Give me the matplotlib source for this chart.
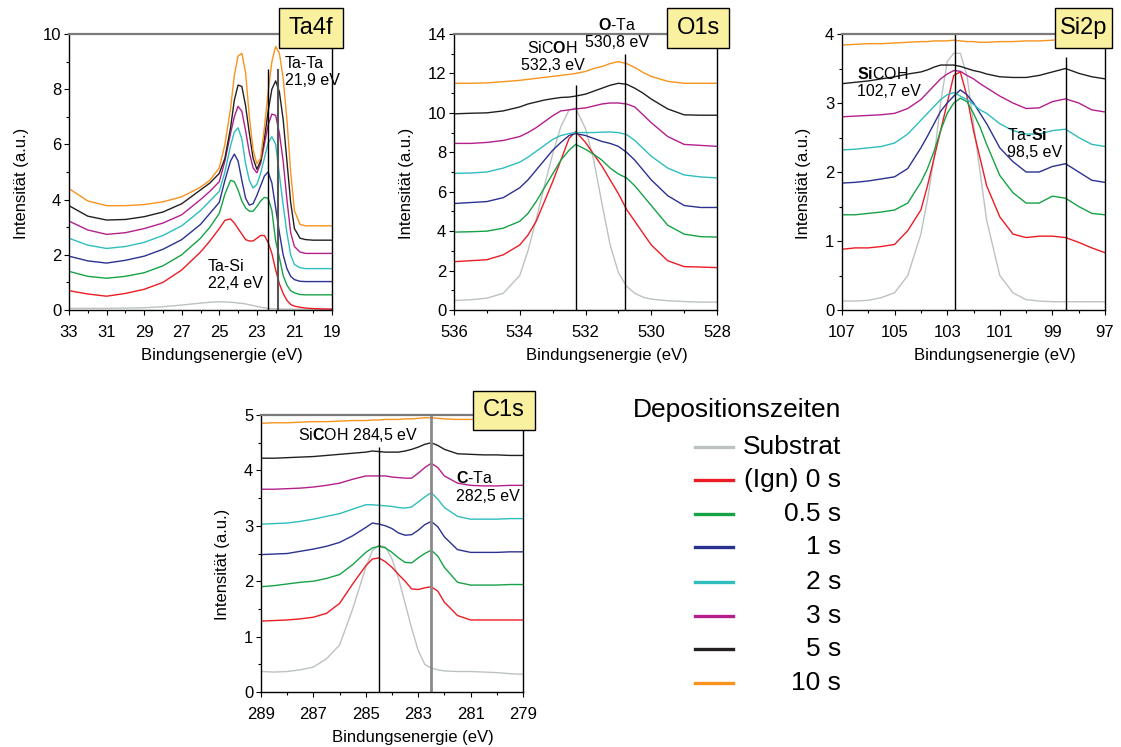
import numpy as np
import matplotlib.pyplot as plt
from matplotlib.lines import Line2D
from matplotlib.patches import Rectangle
from matplotlib.ticker import MultipleLocator

plt.rcParams['font.family'] = ['Liberation Sans', 'DejaVu Sans']
plt.rcParams['mathtext.fontset'] = 'custom'
plt.rcParams['mathtext.rm'] = 'Liberation Sans'
plt.rcParams['mathtext.bf'] = 'Liberation Sans:bold'

W, H = 1121, 747

series_labels = ['Substrat', '(Ign) 0 s', '0.5 s', '1 s', '2 s', '3 s', '5 s', '10 s']
series_colors = ['#bcc2c2', '#ec1c24', '#15a346', '#2b3190', '#2fbdbd', '#b41f8c', '#231f20', '#f7931e']

# ---- Ta4f ----
ta_e = [33, 32, 31, 30, 29, 28, 27, 26, 25.5, 25, 24.7, 24.4, 24.2, 24.0, 23.8, 23.6, 23.4,
        23.2, 23.0, 22.8, 22.6, 22.4, 22.2, 22.0, 21.8, 21.6, 21.4, 21.2, 21.0, 20.7, 20.4, 20.0, 19.0]
ta_sub = [0.06, 0.06, 0.06, 0.07, 0.08, 0.12, 0.18, 0.25, 0.28, 0.3, 0.29, 0.28, 0.27, 0.25, 0.24, 0.22, 0.19,
          0.16, 0.13, 0.1, 0.08, 0.06, 0.05, 0.04, 0.04, 0.03, 0.03, 0.03, 0.03, 0.03, 0.03, 0.03, 0.03]
ta_0s = [0.7, 0.58, 0.5, 0.6, 0.75, 1.0, 1.45, 2.1, 2.5, 2.95, 3.25, 3.3, 3.15, 2.95, 2.75, 2.55, 2.5,
         2.5, 2.6, 2.7, 2.7, 2.45, 2.05, 1.45, 0.95, 0.6, 0.35, 0.2, 0.14, 0.1, 0.07, 0.05, 0.03]
ta_05s = [1.4, 1.22, 1.15, 1.22, 1.35, 1.6, 2.0, 2.6, 3.0, 3.5, 4.2, 4.7, 4.65, 4.35, 3.95, 3.7, 3.58,
          3.58, 3.75, 3.95, 4.08, 4.05, 3.6, 2.5, 1.9, 1.25, 0.9, 0.7, 0.62, 0.56, 0.55, 0.55, 0.55]
ta_1s = [1.95, 1.78, 1.7, 1.8, 1.95, 2.2, 2.55, 3.1, 3.5, 3.9, 4.7, 5.4, 5.65, 5.4, 4.7, 4.05, 3.8,
         3.85, 4.15, 4.5, 4.85, 5.0, 4.6, 3.7, 2.8, 2.0, 1.5, 1.22, 1.1, 1.04, 1.03, 1.03, 1.03]
ta_2s = [2.6, 2.35, 2.23, 2.3, 2.45, 2.7, 3.05, 3.6, 3.95, 4.3, 5.0, 5.95, 6.45, 6.6, 6.2, 5.3, 4.7,
         4.42, 4.55, 4.95, 5.5, 6.05, 6.28, 6.0, 4.9, 3.8, 2.8, 2.0, 1.65, 1.53, 1.5, 1.5, 1.5]
ta_3s = [3.22, 2.9, 2.74, 2.8, 2.95, 3.15, 3.45, 4.0, 4.3, 4.65, 5.4, 6.4, 7.0, 7.38, 7.2, 6.5, 5.7,
         5.15, 4.97, 5.3, 6.0, 6.7, 7.1, 7.05, 6.4, 5.4, 4.0, 2.8, 2.3, 2.1, 2.05, 2.05, 2.05]
ta_5s = [3.78, 3.4, 3.26, 3.28, 3.38, 3.55, 3.85, 4.35, 4.6, 4.95, 5.5, 6.6, 7.6, 8.15, 8.1, 7.4, 6.4,
         5.5, 5.1, 5.4, 6.2, 7.2, 8.0, 8.3, 7.9, 6.9, 5.4, 3.9, 2.95, 2.6, 2.55, 2.53, 2.53]
ta_10s = [4.4, 3.95, 3.78, 3.78, 3.82, 3.92, 4.1, 4.45, 4.7, 5.15, 6.0, 7.3, 8.5, 9.2, 9.3, 8.6, 7.0,
          5.8, 5.3, 5.5, 6.6, 7.9, 9.0, 9.55, 9.3, 8.4, 6.9, 5.0, 3.6, 3.1, 3.05, 3.05, 3.05]

# ---- O1s ----
o_e = [536, 535.5, 535, 534.5, 534, 533.75, 533.5, 533.25, 533, 532.75, 532.5, 532.3, 532,
       531.75, 531.5, 531.25, 531, 530.75, 530.5, 530.25, 530, 529.5, 529, 528.5, 528]
o_sub = [0.48, 0.52, 0.6, 0.85, 1.75, 3.0, 4.6, 6.3, 7.9, 9.3, 10.15, 10.25, 9.2,
         7.6, 5.4, 3.3, 1.9, 1.2, 0.85, 0.65, 0.55, 0.47, 0.43, 0.4, 0.4]
o_0s = [2.45, 2.5, 2.55, 2.8, 3.3, 3.8, 4.5, 5.5, 6.5, 7.6, 8.7, 9.05, 8.5,
        7.9, 7.3, 6.6, 5.9, 5.1, 4.5, 3.9, 3.3, 2.5, 2.2, 2.18, 2.15]
o_05s = [3.95, 3.97, 4.0, 4.15, 4.5, 4.9, 5.5, 6.2, 6.9, 7.6, 8.1, 8.4, 8.15,
         7.9, 7.6, 7.2, 6.9, 6.7, 6.3, 5.8, 5.3, 4.3, 3.85, 3.72, 3.7]
o_1s = [5.4, 5.45, 5.5, 5.7, 6.2, 6.6, 7.1, 7.6, 8.1, 8.5, 8.85, 8.95, 8.85,
        8.7, 8.55, 8.45, 8.3, 8.0, 7.6, 7.1, 6.6, 5.8, 5.3, 5.2, 5.2]
o_2s = [6.93, 6.95, 7.0, 7.2, 7.5, 7.75, 8.05, 8.35, 8.65, 8.85, 8.95, 9.0, 9.0,
        9.0, 9.02, 9.03, 9.0, 8.9, 8.6, 8.2, 7.8, 7.2, 6.85, 6.75, 6.7]
o_3s = [8.45, 8.45, 8.5, 8.6, 8.8, 9.0, 9.25, 9.55, 9.85, 10.1, 10.15, 10.2, 10.25,
        10.35, 10.45, 10.5, 10.5, 10.45, 10.3, 9.9, 9.5, 8.8, 8.4, 8.35, 8.3]
o_5s = [9.95, 9.98, 10.0, 10.1, 10.3, 10.45, 10.55, 10.65, 10.72, 10.78, 10.8, 10.85, 10.95,
        11.1, 11.25, 11.4, 11.5, 11.45, 11.25, 11.0, 10.7, 10.2, 9.9, 9.88, 9.88]
o_10s = [11.5, 11.5, 11.52, 11.58, 11.65, 11.7, 11.75, 11.8, 11.85, 11.9, 11.95, 12.0, 12.1,
         12.25, 12.35, 12.5, 12.6, 12.5, 12.3, 12.05, 11.85, 11.6, 11.5, 11.5, 11.5]

# ---- Si2p ----
si_e = [107, 106.5, 106, 105.5, 105, 104.5, 104, 103.75, 103.5, 103.25, 103, 102.75, 102.5,
        102.25, 102, 101.75, 101.5, 101, 100.5, 100, 99.5, 99, 98.5, 98, 97.5, 97]
si_sub = [0.13, 0.13, 0.14, 0.18, 0.25, 0.5, 1.1, 1.6, 2.2, 3.0, 3.6, 3.72, 3.72,
          3.4, 2.7, 2.0, 1.3, 0.5, 0.25, 0.15, 0.13, 0.12, 0.12, 0.12, 0.12, 0.12]
si_0s = [0.88, 0.9, 0.9, 0.92, 0.95, 1.15, 1.45, 1.8, 2.2, 2.6, 3.0, 3.4, 3.45,
         3.1, 2.6, 2.2, 1.8, 1.35, 1.1, 1.05, 1.07, 1.07, 1.05, 0.98, 0.9, 0.83]
si_05s = [1.38, 1.38, 1.4, 1.42, 1.45, 1.55, 1.85, 2.05, 2.3, 2.6, 2.85, 3.0, 3.07,
          3.02, 2.85, 2.65, 2.4, 1.95, 1.7, 1.55, 1.55, 1.65, 1.62, 1.5, 1.4, 1.38]
si_1s = [1.84, 1.85, 1.87, 1.9, 1.93, 2.05, 2.35, 2.52, 2.7, 2.88, 3.0, 3.1, 3.19,
         3.12, 3.0, 2.85, 2.7, 2.35, 2.15, 2.0, 2.0, 2.08, 2.12, 2.0, 1.88, 1.85]
si_2s = [2.32, 2.33, 2.35, 2.37, 2.42, 2.55, 2.75, 2.85, 2.95, 3.05, 3.12, 3.15, 3.1,
         3.05, 2.98, 2.9, 2.85, 2.7, 2.6, 2.55, 2.55, 2.6, 2.62, 2.5, 2.4, 2.37]
si_3s = [2.8, 2.81, 2.82, 2.83, 2.85, 2.92, 3.05, 3.15, 3.25, 3.35, 3.42, 3.47, 3.46,
         3.4, 3.35, 3.28, 3.22, 3.1, 3.0, 2.92, 2.93, 3.02, 3.06, 3.0, 2.9, 2.87]
si_5s = [3.28, 3.3, 3.32, 3.35, 3.38, 3.42, 3.45, 3.48, 3.52, 3.55, 3.55, 3.55, 3.53,
         3.5, 3.47, 3.45, 3.42, 3.38, 3.37, 3.37, 3.4, 3.45, 3.5, 3.43, 3.38, 3.35]
si_10s = [3.84, 3.85, 3.86, 3.86, 3.87, 3.88, 3.89, 3.89, 3.9, 3.9, 3.9, 3.91, 3.9,
          3.89, 3.89, 3.88, 3.88, 3.89, 3.89, 3.9, 3.9, 3.91, 3.92, 3.93, 3.93, 3.93]

# ---- C1s ----
c_e = [289, 288.5, 288, 287.5, 287, 286.5, 286, 285.5, 285, 284.75, 284.5, 284.25, 284, 283.75,
       283.5, 283.25, 283, 282.75, 282.5, 282.25, 282, 281.5, 281, 280.5, 280, 279.5, 279]
c_sub = [0.37, 0.36, 0.37, 0.4, 0.45, 0.6, 0.85, 1.5, 2.25, 2.55, 2.65, 2.62, 2.4, 2.05,
         1.6, 1.15, 0.75, 0.5, 0.43, 0.4, 0.38, 0.37, 0.37, 0.36, 0.35, 0.33, 0.32]
c_0s = [1.28, 1.29, 1.3, 1.32, 1.35, 1.42, 1.6, 1.95, 2.28, 2.4, 2.42, 2.35, 2.25, 2.12,
        2.0, 1.86, 1.85, 1.88, 1.9, 1.82, 1.62, 1.38, 1.3, 1.3, 1.3, 1.3, 1.3]
c_05s = [1.9, 1.92, 1.95, 1.98, 2.0, 2.05, 2.12, 2.3, 2.52, 2.6, 2.63, 2.6, 2.52, 2.42,
         2.34, 2.33, 2.42, 2.5, 2.56, 2.45, 2.25, 1.98, 1.93, 1.93, 1.93, 1.94, 1.94]
c_1s = [2.48, 2.49, 2.5, 2.54, 2.58, 2.63, 2.7, 2.82, 2.97, 3.05, 3.03, 3.0, 2.95, 2.87,
        2.83, 2.84, 2.92, 3.02, 3.08, 2.98, 2.8, 2.57, 2.52, 2.52, 2.52, 2.53, 2.53]
c_2s = [3.03, 3.04, 3.05, 3.08, 3.12, 3.17, 3.22, 3.3, 3.38, 3.38, 3.37, 3.36, 3.35, 3.33,
        3.32, 3.34, 3.43, 3.52, 3.6, 3.48, 3.33, 3.17, 3.12, 3.12, 3.12, 3.13, 3.13]
c_3s = [3.66, 3.66, 3.67, 3.68, 3.7, 3.73, 3.77, 3.84, 3.9, 3.9, 3.9, 3.9, 3.88, 3.87,
        3.86, 3.86, 3.95, 4.05, 4.13, 4.05, 3.9, 3.77, 3.73, 3.72, 3.72, 3.73, 3.73]
c_5s = [4.22, 4.22, 4.23, 4.24, 4.25, 4.27, 4.29, 4.31, 4.33, 4.35, 4.34, 4.33, 4.33, 4.33,
        4.35, 4.38, 4.42, 4.47, 4.5, 4.45, 4.38, 4.3, 4.29, 4.28, 4.28, 4.27, 4.27]
c_10s = [4.85, 4.86, 4.86, 4.87, 4.88, 4.88, 4.89, 4.9, 4.9, 4.91, 4.91, 4.92, 4.92, 4.92,
         4.93, 4.93, 4.94, 4.95, 4.95, 4.94, 4.93, 4.92, 4.92, 4.92, 4.91, 4.91, 4.9]


def fx(px):
    return px / W


def fy(py):
    return 1 - py / H


def panel(rect_px, energies, curves, xlim, ylim, ymajor, yminor, name, box_px):
    l, t, r, b = rect_px
    ax = fig.add_axes([fx(l), fy(b), (r - l) / W, (b - t) / H])
    for y, c in zip(curves, series_colors):
        ax.plot(energies, y, color=c, lw=1.0)
    ax.set_xlim(*xlim)
    ax.set_ylim(*ylim)
    ax.set_xticks(np.arange(xlim[0], xlim[1] - 0.5, -2))
    ax.xaxis.set_minor_locator(MultipleLocator(1))
    ax.yaxis.set_major_locator(MultipleLocator(ymajor))
    ax.yaxis.set_minor_locator(MultipleLocator(yminor))
    ax.tick_params(which='major', direction='out', length=3.5, width=0.8, labelsize=12)
    ax.tick_params(axis='x', which='major', pad=7)
    ax.tick_params(axis='y', which='major', pad=2)
    ax.tick_params(which='minor', direction='out', length=2.5, width=0.8)
    for s in ['left', 'bottom', 'right']:
        ax.spines[s].set_color('black')
        ax.spines[s].set_linewidth(1.0)
    ax.spines['top'].set_color('#7a7a7a')
    ax.spines['top'].set_linewidth(1.6)
    ax.set_xlabel('Bindungsenergie (eV)', fontsize=12, labelpad=6)
    ax.set_ylabel('Intensität (a.u.)', fontsize=12, labelpad=10)
    ax.xaxis.label.set_x(0.5 + 21 / (r - l))
    ax.yaxis.label.set_y(0.5 - 11 / (b - t))
    # label box
    bl, bt, br, bb = box_px
    fig.add_artist(Rectangle((fx(bl), fy(bb)), (br - bl) / W, (bb - bt) / H,
                             transform=fig.transFigure, facecolor='#f9f0a0',
                             edgecolor='black', lw=1.0, zorder=10))
    fig.text(fx((bl + br) / 2), fy((bt + bb) / 2), name, ha='center', va='center',
             fontsize=17, zorder=11)
    return ax


fig = plt.figure(figsize=(W / 100, H / 100), dpi=100)

# Ta4f
ax1 = panel((69, 34, 332, 310), ta_e,
            [ta_sub, ta_0s, ta_05s, ta_1s, ta_2s, ta_3s, ta_5s, ta_10s],
            (33, 19), (0, 10), 2, 1, 'Ta4f', (279, 8, 343, 48))
ax1.vlines(22.4, 0, 8.75, color='black', lw=1.0)
ax1.vlines(21.9, 0, 8.75, color='#555555', lw=1.5)
ax1.text(21.5, 8.62, 'Ta-Ta\n21,9 eV', ha='left', va='center', fontsize=11.5)
ax1.text(25.6, 1.27, 'Ta-Si\n22,4 eV', ha='left', va='center', fontsize=11.5)

# O1s
ax2 = panel((454, 34, 717, 310), o_e,
            [o_sub, o_0s, o_05s, o_1s, o_2s, o_3s, o_5s, o_10s],
            (536, 528), (0, 14), 2, 1, 'O1s', (667, 8, 729, 48))
ax2.vlines(532.3, 0, 11.4, color='black', lw=1.0)
ax2.vlines(530.8, 0, 13.0, color='black', lw=1.0)
ax2.text(533.0, 12.86, 'SiC$\\mathbf{O}$H\n532,3 eV', ha='center', va='center', fontsize=11.5)
ax2.text(531.05, 14.03, '$\\mathbf{O}$-Ta\n530,8 eV', ha='center', va='center', fontsize=11.5)

# Si2p
ax3 = panel((842, 34, 1105, 310), si_e,
            [si_sub, si_0s, si_05s, si_1s, si_2s, si_3s, si_5s, si_10s],
            (107, 97), (0, 4), 1, 0.5, 'Si2p', (1055, 8, 1112, 48))
ax3.vlines(102.7, 0, 4.0, color='black', lw=1.0)
ax3.vlines(98.5, 0, 3.67, color='black', lw=1.0)
ax3.text(106.43, 3.30, '$\\mathbf{Si}$COH\n102,7 eV', ha='left', va='center', fontsize=11.5)
ax3.text(100.73, 2.41, 'Ta-$\\mathbf{Si}$\n98,5 eV', ha='left', va='center', fontsize=11.5)

# C1s
ax4 = panel((261, 415, 523, 692), c_e,
            [c_sub, c_0s, c_05s, c_1s, c_2s, c_3s, c_5s, c_10s],
            (289, 279), (0, 5), 1, 0.5, 'C1s', (473, 391, 535, 430))
ax4.vlines(284.5, 0, 4.43, color='black', lw=1.0)
ax4.vlines(282.5, 0, 5.0, color='#8a8a8a', lw=2.0)
ax4.text(287.59, 4.64, 'Si$\\mathbf{C}$OH 284,5 eV', ha='left', va='center', fontsize=11.5)
ax4.text(281.56, 3.70, '$\\mathbf{C}$-Ta\n282,5 eV', ha='left', va='center', fontsize=11.5)

# legend
fig.text(fx(841), fy(410), 'Depositionszeiten', ha='right', va='center', fontsize=19)
legend_y = [447, 480, 514, 547, 582, 616, 649, 683]
for yy, c, lab in zip(legend_y, series_colors, series_labels):
    fig.add_artist(Line2D([fx(695), fx(733)], [fy(yy), fy(yy)], color=c, lw=2.4,
                          transform=fig.transFigure))
    fig.text(fx(841), fy(yy), lab, ha='right', va='center', fontsize=19)

fig.savefig('out.png', dpi=100)
